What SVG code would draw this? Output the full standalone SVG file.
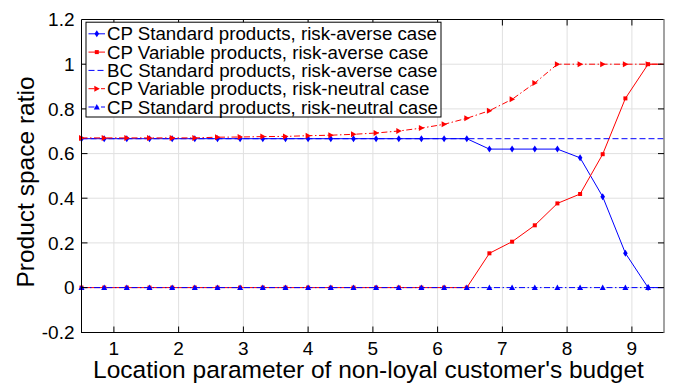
<svg xmlns="http://www.w3.org/2000/svg" width="675" height="385" viewBox="0 0 675 385">
  <style>
    text { font-family: "Liberation Sans", Arial, Helvetica, sans-serif; fill: #000; }
    .tick { font-size: 19px; }
    .ytick { text-anchor: end; }
    .xtick { text-anchor: middle; }
    .label { font-size: 24.5px; }
    .legend { font-size: 18.7px; }
    .grid { stroke: #e0e0e0; stroke-width: 1; fill: none; }
    .axis { stroke: #000; stroke-width: 1; fill: none; }
    .ln { fill: none; stroke-width: 1; stroke-linejoin: round; }
    .blue { stroke: #0000ff; }
    .red { stroke: #ff0000; }
    .dash { stroke-dasharray: 6 3; }
    .dashdot { stroke-dasharray: 6 2.5 1.5 2.5; }
    .mk { fill: none; stroke: none; }
  </style>
  <defs>
    <marker id="m-diamond" markerUnits="userSpaceOnUse" markerWidth="8" markerHeight="10" viewBox="-4 -5 8 10" refX="0" refY="0" overflow="visible">
      <polygon points="0,-3.5 2.3,0 0,3.5 -2.3,0" fill="#0000ff"/>
    </marker>
    <marker id="m-square" markerUnits="userSpaceOnUse" markerWidth="8" markerHeight="8" viewBox="-4 -4 8 8" refX="0" refY="0" overflow="visible">
      <rect x="-2" y="-2" width="4" height="4" fill="#ff0000"/>
    </marker>
    <marker id="m-triright" markerUnits="userSpaceOnUse" markerWidth="8" markerHeight="8" viewBox="-4 -4 8 8" refX="0" refY="0" overflow="visible">
      <polygon points="-2.5,-3 3,0 -2.5,3" fill="#ff0000"/>
    </marker>
    <marker id="m-triup" markerUnits="userSpaceOnUse" markerWidth="8" markerHeight="8" viewBox="-4 -4 8 8" refX="0" refY="0" overflow="visible">
      <polygon points="0,-3 3,2.5 -3,2.5" fill="#0000ff"/>
    </marker>
  </defs>

  <rect x="0" y="0" width="675" height="385" fill="#fff"/>

  <!-- grid -->
  <g id="grid" class="grid">
    <line x1="113.9" y1="19.5" x2="113.9" y2="332.3"/>
    <line x1="178.6" y1="19.5" x2="178.6" y2="332.3"/>
    <line x1="243.4" y1="19.5" x2="243.4" y2="332.3"/>
    <line x1="308.1" y1="19.5" x2="308.1" y2="332.3"/>
    <line x1="372.9" y1="19.5" x2="372.9" y2="332.3"/>
    <line x1="437.6" y1="19.5" x2="437.6" y2="332.3"/>
    <line x1="502.4" y1="19.5" x2="502.4" y2="332.3"/>
    <line x1="567.1" y1="19.5" x2="567.1" y2="332.3"/>
    <line x1="631.9" y1="19.5" x2="631.9" y2="332.3"/>
    <line x1="81.5" y1="287.6" x2="664" y2="287.6"/>
    <line x1="81.5" y1="242.9" x2="664" y2="242.9"/>
    <line x1="81.5" y1="198.2" x2="664" y2="198.2"/>
    <line x1="81.5" y1="153.6" x2="664" y2="153.6"/>
    <line x1="81.5" y1="108.9" x2="664" y2="108.9"/>
    <line x1="81.5" y1="64.2" x2="664" y2="64.2"/>
  </g>

  <!-- data series -->
  <g id="series">
    <g id="cp-standard-averse">
      <polyline class="ln blue" points="81.5,138.7 466.8,138.7 489.4,149.1 557.4,149.1 580.1,157.8 602.7,196.7 625.4,253.2 648.1,287.6 664,287.6"/>
      <polyline class="mk" marker-start="url(#m-diamond)" marker-mid="url(#m-diamond)" marker-end="url(#m-diamond)" points="81.5,138.7 104.2,138.7 126.8,138.7 149.5,138.7 172.2,138.7 194.8,138.7 217.5,138.7 240.1,138.7 262.8,138.7 285.5,138.7 308.1,138.7 330.8,138.7 353.5,138.7 376.1,138.7 398.8,138.7 421.4,138.7 444.1,138.7 466.8,138.7 489.4,149.1 512.1,149.1 534.8,149.1 557.4,149.1 580.1,157.8 602.7,196.7 625.4,253.2 648.1,287.6"/>
    </g>
    <g id="cp-variable-averse">
      <polyline class="ln red" points="81.5,287.6 466.8,287.6 489.4,253.3 512.1,241.7 534.8,225.3 557.4,203.4 580.1,194.0 602.7,154.2 625.4,98.4 648.1,64.2 664,64.2"/>
      <polyline class="mk" marker-start="url(#m-square)" marker-mid="url(#m-square)" marker-end="url(#m-square)" points="81.5,287.6 104.2,287.6 126.8,287.6 149.5,287.6 172.2,287.6 194.8,287.6 217.5,287.6 240.1,287.6 262.8,287.6 285.5,287.6 308.1,287.6 330.8,287.6 353.5,287.6 376.1,287.6 398.8,287.6 421.4,287.6 444.1,287.6 466.8,287.6 489.4,253.3 512.1,241.7 534.8,225.3 557.4,203.4 580.1,194.0 602.7,154.2 625.4,98.4 648.1,64.2"/>
    </g>
    <g id="bc-standard-averse">
      <line class="ln blue dash" x1="81.5" y1="138.7" x2="664" y2="138.7"/>
    </g>
    <g id="cp-variable-neutral">
      <polyline class="ln red dashdot" points="81.5,137.9 104.2,137.9 126.8,137.9 149.5,137.9 172.2,137.9 194.8,137.9 217.5,137.2 240.1,137.0 262.8,136.6 285.5,136.4 308.1,135.7 330.8,135.2 353.5,134.3 376.1,133.0 398.8,131.0 421.4,128.1 444.1,124.3 466.8,118.3 489.4,110.7 512.1,99.3 534.8,83.0 557.4,64.2 664,64.2"/>
      <polyline class="mk" marker-start="url(#m-triright)" marker-mid="url(#m-triright)" marker-end="url(#m-triright)" points="81.5,137.9 104.2,137.9 126.8,137.9 149.5,137.9 172.2,137.9 194.8,137.9 217.5,137.2 240.1,137.0 262.8,136.6 285.5,136.4 308.1,135.7 330.8,135.2 353.5,134.3 376.1,133.0 398.8,131.0 421.4,128.1 444.1,124.3 466.8,118.3 489.4,110.7 512.1,99.3 534.8,83.0 557.4,64.2 580.1,64.2 602.7,64.2 625.4,64.2 648.1,64.2"/>
    </g>
    <g id="cp-standard-neutral">
      <line class="ln blue dashdot" x1="81.5" y1="287.6" x2="664" y2="287.6"/>
      <polyline class="mk" marker-start="url(#m-triup)" marker-mid="url(#m-triup)" marker-end="url(#m-triup)" points="81.5,287.6 104.2,287.6 126.8,287.6 149.5,287.6 172.2,287.6 194.8,287.6 217.5,287.6 240.1,287.6 262.8,287.6 285.5,287.6 308.1,287.6 330.8,287.6 353.5,287.6 376.1,287.6 398.8,287.6 421.4,287.6 444.1,287.6 466.8,287.6 489.4,287.6 512.1,287.6 534.8,287.6 557.4,287.6 580.1,287.6 602.7,287.6 625.4,287.6 648.1,287.6"/>
    </g>
  </g>

  <!-- axes box and ticks -->
  <g id="axes">
    <line class="axis" x1="81.5" y1="19.5" x2="81.5" y2="332.5"/>
    <line class="axis" x1="81" y1="332.5" x2="664" y2="332.5"/>
    <line class="axis" x1="81.5" y1="19.5" x2="664" y2="19.5"/>
    <line x1="664" y1="19" x2="664" y2="333" stroke="#707070" stroke-width="1.3"/>
    <path class="axis" d="M113.9,332.5v-6 M178.6,332.5v-6 M243.4,332.5v-6 M308.1,332.5v-6 M372.9,332.5v-6 M437.6,332.5v-6 M502.4,332.5v-6 M567.1,332.5v-6 M631.9,332.5v-6
      M113.9,19.5v6 M178.6,19.5v6 M243.4,19.5v6 M308.1,19.5v6 M372.9,19.5v6 M437.6,19.5v6 M502.4,19.5v6 M567.1,19.5v6 M631.9,19.5v6
      M81.5,287.6h6 M81.5,242.9h6 M81.5,198.2h6 M81.5,153.6h6 M81.5,108.9h6 M81.5,64.2h6
      M664,287.6h-6 M664,242.9h-6 M664,198.2h-6 M664,153.6h-6 M664,108.9h-6 M664,64.2h-6"/>
  </g>

  <!-- tick labels -->
  <g id="yticks" class="tick ytick">
    <text x="74.5" y="26.1">1.2</text>
    <text x="74.5" y="70.8">1</text>
    <text x="74.5" y="115.5">0.8</text>
    <text x="74.5" y="160.2">0.6</text>
    <text x="74.5" y="204.8">0.4</text>
    <text x="74.5" y="249.5">0.2</text>
    <text x="74.5" y="294.2">0</text>
    <text x="74.5" y="338.9">-0.2</text>
  </g>
  <g id="xticks" class="tick xtick">
    <text x="113.9" y="354.5">1</text>
    <text x="178.6" y="354.5">2</text>
    <text x="243.4" y="354.5">3</text>
    <text x="308.1" y="354.5">4</text>
    <text x="372.9" y="354.5">5</text>
    <text x="437.6" y="354.5">6</text>
    <text x="502.4" y="354.5">7</text>
    <text x="567.1" y="354.5">8</text>
    <text x="631.9" y="354.5">9</text>
  </g>

  <!-- axis titles -->
  <text id="xlabel" class="label" x="368.5" y="378" text-anchor="middle">Location parameter of non-loyal customer's budget</text>
  <text id="ylabel" class="label" x="0" y="0" text-anchor="middle" transform="translate(33.5,182) rotate(-90)">Product space ratio</text>

  <!-- legend -->
  <g id="legend">
    <rect x="86" y="22.2" width="355" height="94.8" fill="#fff" stroke="#000" stroke-width="1"/>
    <g id="legend-1">
      <line class="ln blue" x1="88.5" y1="33.8" x2="105" y2="33.8"/>
      <polygon points="96.8,30.3 99.1,33.8 96.8,37.3 94.5,33.8" fill="#0000ff"/>
      <text class="legend" x="107" y="40.4">CP Standard products, risk-averse case</text>
    </g>
    <g id="legend-2">
      <line class="ln red" x1="88.5" y1="52.1" x2="105" y2="52.1"/>
      <rect x="94.8" y="50.1" width="4" height="4" fill="#ff0000"/>
      <text class="legend" x="107" y="58.7">CP Variable products, risk-averse case</text>
    </g>
    <g id="legend-3">
      <line class="ln blue dash" x1="88.5" y1="70.4" x2="105" y2="70.4"/>
      <text class="legend" x="107" y="77">BC Standard products, risk-averse case</text>
    </g>
    <g id="legend-4">
      <line class="ln red dashdot" x1="88.5" y1="88.7" x2="105" y2="88.7"/>
      <polygon points="94.3,85.7 99.8,88.7 94.3,91.7" fill="#ff0000"/>
      <text class="legend" x="107" y="95.3">CP Variable products, risk-neutral case</text>
    </g>
    <g id="legend-5">
      <line class="ln blue dashdot" x1="88.5" y1="107" x2="105" y2="107"/>
      <polygon points="96.8,104 99.8,109.5 93.8,109.5" fill="#0000ff"/>
      <text class="legend" x="107" y="113.6">CP Standard products, risk-neutral case</text>
    </g>
  </g>
</svg>
